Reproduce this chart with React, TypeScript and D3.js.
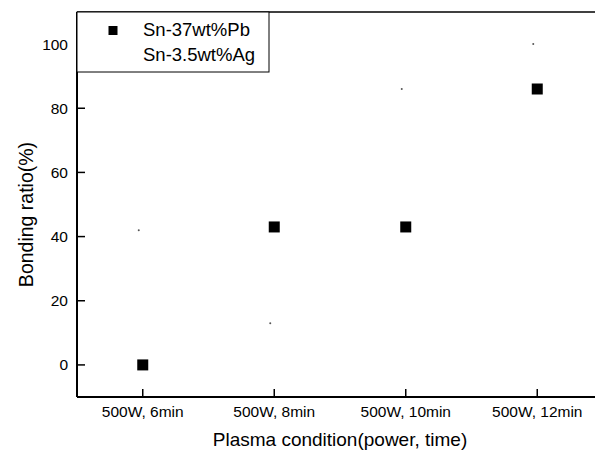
import React from 'react';
import * as d3 from 'd3';

// plasma conditions on the x axis
const conditions = ['500W, 6min', '500W, 8min', '500W, 10min', '500W, 12min'];
// Sn-37wt%Pb bonding ratio (%)
const snPb = [0, 43, 43, 86];
// Sn-3.5wt%Ag bonding ratio (%) -- markers barely survived in the scan
const snAg = [42, 13, 86, 100];
const yTicks = [0, 20, 40, 60, 80, 100];

const W = 595;
const H = 452;
const margin = { top: 12, right: -8, bottom: 55, left: 77 };
const font = '"Liberation Sans", Arial, sans-serif';

export default function App() {
  const x = d3
    .scaleLinear()
    .domain([0.5, conditions.length + 0.5])
    .range([margin.left, W - margin.right]);
  const y = d3
    .scaleLinear()
    .domain([-10, 110])
    .range([H - margin.bottom, margin.top]);

  const x0 = margin.left;
  const x1 = W - margin.right;
  const yb = y(-10);
  const yt = y(110);

  return (
    <svg
      width={W}
      height={H}
      style={{ position: 'absolute', left: 0, top: 0, background: '#fff' }}
      fontFamily={font}
    >
      <rect width={W} height={H} fill="#fff" />
      {/* frame */}
      <line x1={x0} x2={x1} y1={yt} y2={yt} stroke="#000" strokeWidth={1.5} />
      <line x1={x0} x2={x1} y1={yb} y2={yb} stroke="#000" strokeWidth={2} />
      <line x1={x0} x2={x0} y1={yt} y2={yb} stroke="#000" strokeWidth={2} />

      {/* y ticks */}
      {yTicks.map((t) => (
        <g key={t}>
          <line x1={x0} x2={x0 + 8} y1={y(t)} y2={y(t)} stroke="#000" strokeWidth={1.5} />
          <text x={x0 - 9} y={y(t)} dy="0.36em" textAnchor="end" fontSize={15.5}>
            {t}
          </text>
        </g>
      ))}

      {/* x ticks */}
      {conditions.map((c, i) => (
        <g key={c}>
          <line x1={x(i + 1)} x2={x(i + 1)} y1={yb} y2={yb - 8} stroke="#000" strokeWidth={1.5} />
          <text x={x(i + 1)} y={yb + 20} textAnchor="middle" fontSize={15.5}>
            {c}
          </text>
        </g>
      ))}

      {/* axis titles */}
      <text x={(x0 + x1) / 2} y={446} textAnchor="middle" fontSize={19}>
        Plasma condition(power, time)
      </text>
      <text
        transform={`translate(33,${(yt + yb) / 2 + 10}) rotate(-90)`}
        textAnchor="middle"
        fontSize={19.5}
      >
        Bonding ratio(%)
      </text>

      {/* Sn-3.5wt%Ag faint remnants */}
      {snAg.map((v, i) => (
        <circle key={'ag' + i} cx={x(i + 1) - 4} cy={y(v)} r={1} fill="#555" />
      ))}

      {/* Sn-37wt%Pb squares */}
      {snPb.map((v, i) => (
        <rect key={'pb' + i} x={x(i + 1) - 5.5} y={y(v) - 5.5} width={11} height={11} fill="#000" />
      ))}

      {/* legend */}
      <rect x={x0} y={yt} width={192} height={60} fill="#fff" stroke="#000" strokeWidth={1} />
      <rect x={108.5} y={26} width={9} height={9} fill="#000" />
      <text x={143} y={36} fontSize={18.5}>
        Sn-37wt%Pb
      </text>
      <text x={143} y={61} fontSize={18.5}>
        Sn-3.5wt%Ag
      </text>
    </svg>
  );
}
